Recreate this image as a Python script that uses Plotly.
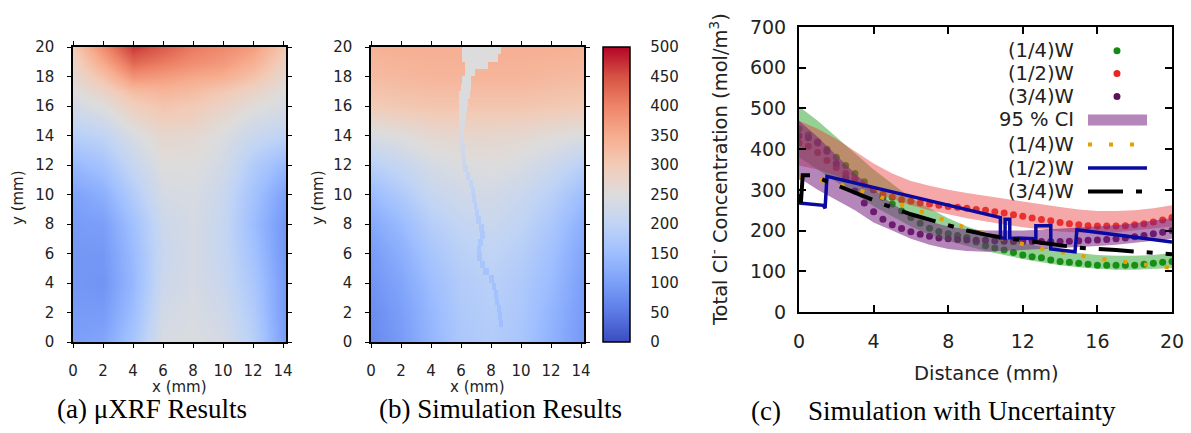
import plotly.graph_objects as go

# ---------------------------------------------------------------- data
# (a) measured chloride map, coarse grid (mol/m^3)
XRF_X = [0, 2, 4, 6, 8, 10, 12, 14.2]
XRF_Y = [0, 2, 4, 6, 8, 10, 12, 14, 15, 16, 17, 18, 19, 20]
XRF_Z = [
    [100, 110, 165, 240, 245, 235, 190, 95],
    [95, 95, 150, 230, 240, 225, 180, 90],
    [90, 85, 140, 220, 235, 215, 170, 90],
    [90, 90, 145, 215, 235, 210, 160, 85],
    [95, 100, 155, 220, 235, 210, 150, 85],
    [105, 125, 180, 235, 240, 215, 160, 100],
    [140, 160, 210, 250, 250, 230, 180, 140],
    [185, 200, 240, 270, 265, 245, 215, 195],
    [210, 225, 265, 290, 285, 260, 235, 220],
    [230, 250, 290, 310, 300, 280, 255, 235],
    [250, 280, 325, 335, 325, 305, 280, 250],
    [265, 315, 380, 370, 355, 345, 315, 265],
    [280, 355, 430, 410, 390, 375, 345, 285],
    [300, 390, 470, 440, 410, 395, 370, 305],
]

# (b) simulated chloride map, coarse grid (mol/m^3)
SIM_X = [0, 2, 4, 6, 8, 10, 12, 14.1]
SIM_Y = [0, 2, 4, 6, 8, 10, 12, 14, 16, 18, 20]
SIM_Z = [
    [70, 95, 135, 170, 180, 165, 130, 90],
    [75, 100, 140, 175, 185, 170, 135, 95],
    [85, 110, 150, 180, 190, 175, 145, 100],
    [95, 125, 165, 190, 200, 185, 155, 110],
    [115, 145, 185, 205, 215, 200, 170, 125],
    [145, 175, 210, 225, 230, 215, 190, 150],
    [190, 210, 235, 245, 250, 240, 220, 190],
    [240, 250, 265, 270, 270, 265, 255, 245],
    [300, 305, 310, 310, 310, 310, 305, 300],
    [325, 330, 335, 335, 335, 335, 330, 325],
    [340, 345, 345, 345, 345, 345, 345, 340],
]

# (b) crack path: row centre y, left edge, right edge, concentration
CRACK_Y = [19.75, 19.25, 18.75, 18.25, 17.75, 17.25, 16.75, 16.25, 15.75, 15.25,
           14.75, 14.25, 13.75, 13.25, 12.75, 12.25, 11.75, 11.25, 10.75, 10.25,
           9.75, 9.25, 8.75, 8.25, 7.75, 7.25, 6.75, 6.25, 5.75, 5.25,
           4.75, 4.25, 3.75, 3.25, 2.75, 2.25, 1.75, 1.25]
CRACK_X0 = [6.05, 6.1, 6.3, 6.25, 6.05, 6.0, 5.9, 5.9, 5.9, 5.9,
            5.85, 5.85, 5.9, 5.95, 6.0, 6.05, 6.15, 6.35, 6.55, 6.7,
            6.75, 6.85, 6.95, 7.0, 7.2, 7.3, 7.15, 7.05, 7.1, 7.25,
            7.5, 7.9, 8.05, 8.2, 8.3, 8.4, 8.5, 8.55]
CRACK_X1 = [8.65, 8.5, 7.8, 6.95, 6.7, 6.65, 6.6, 6.5, 6.4, 6.35,
            6.3, 6.2, 6.2, 6.25, 6.3, 6.35, 6.45, 6.6, 6.8, 6.95,
            7.0, 7.1, 7.2, 7.35, 7.55, 7.6, 7.45, 7.35, 7.4, 7.6,
            7.9, 8.2, 8.35, 8.45, 8.55, 8.65, 8.75, 8.8]
CRACK_C = [250, 250, 250, 248, 247, 246, 245, 244, 243, 242,
           240, 238, 234, 230, 225, 218, 210, 205, 200, 196,
           192, 188, 184, 180, 176, 173, 170, 168, 166, 164,
           162, 160, 158, 157, 156, 155, 154, 153]

# (c) measured profiles, one point every 0.5 mm
DIST = [0, 0.5, 1, 1.5, 2, 2.5, 3, 3.5, 4, 4.5, 5, 5.5, 6, 6.5, 7, 7.5, 8, 8.5, 9, 9.5,
        10, 10.5, 11, 11.5, 12, 12.5, 13, 13.5, 14, 14.5, 15, 15.5, 16, 16.5, 17, 17.5,
        18, 18.5, 19, 19.5, 20]
MEAS_Q1 = [450, 435, 418, 400, 380, 360, 340, 320, 300, 282, 265, 248, 232, 218, 206, 198,
           192, 188, 183, 172, 163, 157, 152, 146, 140, 136, 133, 128, 124, 122, 120, 117,
           115, 115, 115, 115, 115, 117, 120, 122, 124]
MEAS_Q2 = [415, 407, 392, 372, 355, 340, 327, 313, 300, 290, 282, 276, 272, 268, 265, 262,
           259, 257, 255, 252, 250, 246, 243, 239, 235, 231, 227, 224, 220, 217, 214, 212,
           211, 211, 211, 212, 214, 217, 221, 226, 232]
MEAS_Q3 = [432, 428, 415, 395, 365, 330, 297, 268, 246, 228, 214, 205, 197, 191, 186, 182,
           180, 178, 177, 176, 176, 175, 174, 173, 173, 173, 173, 173, 173, 174, 175, 176,
           177, 178, 180, 182, 185, 188, 192, 196, 200]

# (c) 95 % confidence bands, one point per mm
BAND_X = list(range(21))
CI_Q1_LO = [380, 350, 320, 290, 260, 235, 210, 190, 175, 162, 150, 140, 130, 122, 115, 110,
            106, 104, 104, 106, 108]
CI_Q1_HI = [505, 470, 430, 390, 350, 315, 280, 255, 230, 210, 195, 182, 170, 160, 150, 145,
            140, 138, 138, 140, 145]
CI_Q2_LO = [360, 350, 335, 315, 295, 278, 262, 250, 240, 230, 222, 215, 208, 203, 198, 195,
            195, 196, 200, 205, 210]
CI_Q2_HI = [470, 450, 425, 395, 365, 340, 322, 310, 300, 292, 285, 278, 272, 265, 258, 252,
            248, 248, 250, 255, 262]
CI_Q3_LO = [330, 300, 275, 250, 220, 200, 180, 165, 155, 150, 148, 150, 152, 155, 158, 160,
            162, 165, 170, 175, 180]
CI_Q3_HI = [470, 430, 385, 340, 300, 265, 240, 222, 210, 203, 200, 200, 200, 202, 205, 207,
            210, 213, 218, 225, 230]

# (c) simulated profiles
SIM_Q1_X = list(range(21))
SIM_Q1_V = [330, 325, 316, 303, 288, 272, 255, 238, 221, 206, 192, 179, 167, 156, 147, 139,
            132, 126, 120, 114, 108]
SIM_Q2_X = [0, 0, 1.3, 1.4, 1.5, 10.8, 10.8, 11.05, 11.05, 11.3, 11.3, 12.7, 12.7, 13.5,
            13.5, 14.8, 14.9, 20]
SIM_Q2_V = [290, 268, 262, 255, 333, 232, 182, 182, 228, 228, 182, 180, 212, 212,
            155, 148, 202, 172]
SIM_Q3_X = [0.1, 0.2, 0.7, 2.0, 3.0, 4.5, 6.0, 7.5, 9.0, 10.0, 11.0, 13.0, 14.0, 15.0,
            17.0, 18.5, 20.0]
SIM_Q3_V = [268, 336, 336, 312, 293, 265, 240, 220, 200, 190, 182, 170, 163, 158,
            152, 148, 142]

LEGEND_LABELS = ["(1/4)W", "(1/2)W", "(3/4)W", "95 % CI", "(1/4)W", "(1/2)W", "(3/4)W"]

# ---------------------------------------------------------------- styling
W, H = 1191, 433
FONT = "DejaVu Sans"
SERIF = "Liberation Serif"
INK = "#222"

COOLWARM = [
    [0.0, "#3b4cc0"], [0.1, "#5b7ae5"], [0.2, "#7b9ff9"], [0.3, "#9ebeff"],
    [0.4, "#c0d4f5"], [0.5, "#dddcdc"], [0.6, "#f2cbb7"], [0.7, "#f7ac8e"],
    [0.8, "#ee8468"], [0.9, "#d65244"], [1.0, "#b40426"],
]

GREEN = "#168a16"
RED = "#e82626"
PURPLE = "#5e125e"
ORANGE = "#e69f00"
BLUE = "#0a0aa0"
BAND_GREEN = "rgba(20,150,20,0.45)"
BAND_RED = "rgba(235,60,60,0.45)"
BAND_PURPLE = "rgba(120,35,130,0.55)"
DASH_Q3 = "35px,13px,6px,13px"
DASH_Q1 = "4px,17px"


def px(xp):
    return xp / W


def py(yp):
    return 1 - yp / H


fig = go.Figure()

# ---------------------------------------------------------------- (a) and (b) maps
fig.add_trace(go.Heatmap(x=XRF_X, y=XRF_Y, z=XRF_Z, coloraxis="coloraxis",
                         zsmooth="best", xaxis="x", yaxis="y", hoverinfo="skip"))
fig.add_trace(go.Heatmap(x=SIM_X, y=SIM_Y, z=SIM_Z, coloraxis="coloraxis",
                         zsmooth="best", xaxis="x2", yaxis="y2", hoverinfo="skip"))

# crack overlay on a fine grid of cells
cell = 0.05
cx = [5.8 + cell * (i + 0.5) for i in range(64)]
cz = []
for x0, x1, c in zip(CRACK_X0, CRACK_X1, CRACK_C):
    cz.append([c if x0 <= xc <= x1 else None for xc in cx])
fig.add_trace(go.Heatmap(x=cx, y=CRACK_Y, z=cz, coloraxis="coloraxis",
                         zsmooth=False, xaxis="x2", yaxis="y2", hoverinfo="skip"))

# empty traces so the tick-only overlay axes of the maps are drawn
for xa, ya in [("x4", "y4"), ("x5", "y5")]:
    fig.add_trace(go.Scatter(x=[], y=[], xaxis=xa, yaxis=ya, showlegend=False,
                             hoverinfo="skip"))

# ---------------------------------------------------------------- (c) profiles
for yv, col in [(MEAS_Q1, GREEN), (MEAS_Q2, RED), (MEAS_Q3, PURPLE)]:
    fig.add_trace(go.Scatter(x=DIST, y=yv, mode="markers", xaxis="x3", yaxis="y3",
                             marker=dict(size=7, color=col), showlegend=False,
                             hoverinfo="skip"))

for lo, hi, col in [(CI_Q1_LO, CI_Q1_HI, BAND_GREEN),
                    (CI_Q2_LO, CI_Q2_HI, BAND_RED),
                    (CI_Q3_LO, CI_Q3_HI, BAND_PURPLE)]:
    fig.add_trace(go.Scatter(x=BAND_X + BAND_X[::-1], y=hi + lo[::-1], fill="toself",
                             fillcolor=col, line=dict(width=0), mode="lines",
                             xaxis="x3", yaxis="y3", showlegend=False, hoverinfo="skip"))

fig.add_trace(go.Scatter(x=SIM_Q1_X, y=SIM_Q1_V, mode="lines", xaxis="x3", yaxis="y3",
                         line=dict(color=ORANGE, width=4, dash=DASH_Q1),
                         showlegend=False, hoverinfo="skip"))
fig.add_trace(go.Scatter(x=SIM_Q2_X, y=SIM_Q2_V, mode="lines", xaxis="x3", yaxis="y3",
                         line=dict(color=BLUE, width=3.5), showlegend=False,
                         hoverinfo="skip"))
fig.add_trace(go.Scatter(x=SIM_Q3_X, y=SIM_Q3_V, mode="lines", xaxis="x3", yaxis="y3",
                         line=dict(color="black", width=4, dash=DASH_Q3),
                         showlegend=False, hoverinfo="skip"))

# ---------------------------------------------------------------- axes
A_X = [px(73), px(286)]
B_X = [px(371), px(584)]
AB_Y = [py(342), py(47)]
C_X = [px(799), px(1172)]
C_Y = [py(312), py(27)]

MAP_XRANGE = [0, 14.2]
MAP_YRANGE = [0, 20]
MAP_XTICKS = list(range(0, 15, 2))
MAP_YTICKS = list(range(0, 21, 2))

# label axes: frame + tick labels pushed out by long transparent ticks
map_lab = dict(showgrid=False, zeroline=False, showline=True, linecolor="black",
               linewidth=1.5, mirror=True, ticks="outside", ticklen=14,
               tickcolor="rgba(0,0,0,0)",
               tickfont=dict(family=FONT, size=15, color=INK))
# tick axes: short visible ticks on all four sides, no labels
map_tick = dict(showgrid=False, zeroline=False, showline=False, mirror="allticks",
                ticks="outside", ticklen=5, tickcolor="black", tickwidth=1.3,
                showticklabels=False)

prof_axis = dict(showgrid=False, zeroline=False, showline=True, linecolor="black",
                 linewidth=2, mirror="allticks", ticks="inside", ticklen=7,
                 tickcolor="black", tickwidth=1.6,
                 tickfont=dict(family=FONT, size=19, color=INK))

fig.update_layout(
    width=W, height=H, margin=dict(l=0, r=0, t=0, b=0, autoexpand=False),
    paper_bgcolor="white", plot_bgcolor="white", showlegend=False,
    xaxis=dict(map_lab, domain=A_X, anchor="y", range=MAP_XRANGE, tickvals=MAP_XTICKS),
    yaxis=dict(map_lab, domain=AB_Y, anchor="x", range=MAP_YRANGE, tickvals=MAP_YTICKS),
    xaxis2=dict(map_lab, domain=B_X, anchor="y2", range=MAP_XRANGE, tickvals=MAP_XTICKS),
    yaxis2=dict(map_lab, domain=AB_Y, anchor="x2", range=MAP_YRANGE, tickvals=MAP_YTICKS),
    xaxis4=dict(map_tick, overlaying="x", anchor="y4", range=MAP_XRANGE,
                tickvals=MAP_XTICKS),
    yaxis4=dict(map_tick, overlaying="y", anchor="x4", range=MAP_YRANGE,
                tickvals=MAP_YTICKS),
    xaxis5=dict(map_tick, overlaying="x2", anchor="y5", range=MAP_XRANGE,
                tickvals=MAP_XTICKS),
    yaxis5=dict(map_tick, overlaying="y2", anchor="x5", range=MAP_YRANGE,
                tickvals=MAP_YTICKS),
    xaxis3=dict(prof_axis, domain=C_X, anchor="y3", range=[0, 20],
                tickvals=list(range(0, 21, 4)), ticklabelstandoff=11),
    yaxis3=dict(prof_axis, domain=C_Y, anchor="x3", range=[0, 700],
                tickvals=list(range(0, 701, 100)), ticklabelstandoff=7),
    coloraxis=dict(
        colorscale=COOLWARM, cmin=0, cmax=500,
        colorbar=dict(x=px(603), xanchor="left", y=(AB_Y[0] + AB_Y[1]) / 2,
                      yanchor="middle", len=AB_Y[1] - AB_Y[0], lenmode="fraction",
                      thickness=27, thicknessmode="pixels", xpad=0, ypad=0,
                      outlinewidth=1.5, outlinecolor="black",
                      tickvals=list(range(0, 501, 50)), ticks="outside", ticklen=17,
                      tickcolor="rgba(0,0,0,0)",
                      tickfont=dict(family=FONT, size=15, color=INK)),
    ),
)

# ---------------------------------------------------------------- text
def note(text, x, y, size, family=FONT, angle=0, color=INK, xanchor="center"):
    fig.add_annotation(text=text, x=x, y=y, xref="paper", yref="paper",
                       xanchor=xanchor, yanchor="middle", showarrow=False,
                       textangle=angle, borderpad=0,
                       font=dict(family=family, size=size, color=color))


note("x (mm)", px(179), py(387), 15)
note("x (mm)", px(477), py(387), 15)
note("y (mm)", px(18), py(198), 15, angle=-90)
note("y (mm)", px(318), py(198), 15, angle=-90)
note("Distance (mm)", px(986), py(373), 19.5)
note("Total Cl<sup>-</sup> Concentration (mol/m<sup>3</sup>)", px(719), py(170), 19.5,
     angle=-90)

note("(a) \u03bcXRF Results", px(152), py(409), 27, family=SERIF, color="black")
note("(b) Simulation Results", px(500), py(409), 27, family=SERIF, color="black")
note("(c)&nbsp;&nbsp;&nbsp;&nbsp;Simulation with Uncertainty", px(933), py(411), 27,
     family=SERIF, color="black")

# ---------------------------------------------------------------- key for (c)
rows = [50.7, 73.5, 96.5, 120, 144.5, 168, 191.5]
for label, r in zip(LEGEND_LABELS, rows):
    note(label, px(1075), py(r), 19.5, xanchor="right")

for r, col in zip(rows[:3], [GREEN, RED, PURPLE]):
    fig.add_shape(type="circle", xref="paper", yref="paper", xsizemode="pixel",
                  ysizemode="pixel", xanchor=px(1117), yanchor=py(r),
                  x0=-3.5, x1=3.5, y0=-3.5, y1=3.5,
                  fillcolor=col, line=dict(width=0))
fig.add_shape(type="rect", xref="paper", yref="paper", x0=px(1088), x1=px(1147),
              y0=py(rows[3] + 5.5), y1=py(rows[3] - 5.5), fillcolor=BAND_PURPLE,
              line=dict(width=0))
fig.add_shape(type="line", xref="paper", yref="paper", x0=px(1088), x1=px(1147),
              y0=py(rows[4]), y1=py(rows[4]),
              line=dict(color=ORANGE, width=4, dash=DASH_Q1))
fig.add_shape(type="line", xref="paper", yref="paper", x0=px(1088), x1=px(1147),
              y0=py(rows[5]), y1=py(rows[5]), line=dict(color=BLUE, width=3.5))
fig.add_shape(type="line", xref="paper", yref="paper", x0=px(1088), x1=px(1147),
              y0=py(rows[6]), y1=py(rows[6]),
              line=dict(color="black", width=4, dash=DASH_Q3))

fig.write_html("out.html", config={"displayModeBar": False})
